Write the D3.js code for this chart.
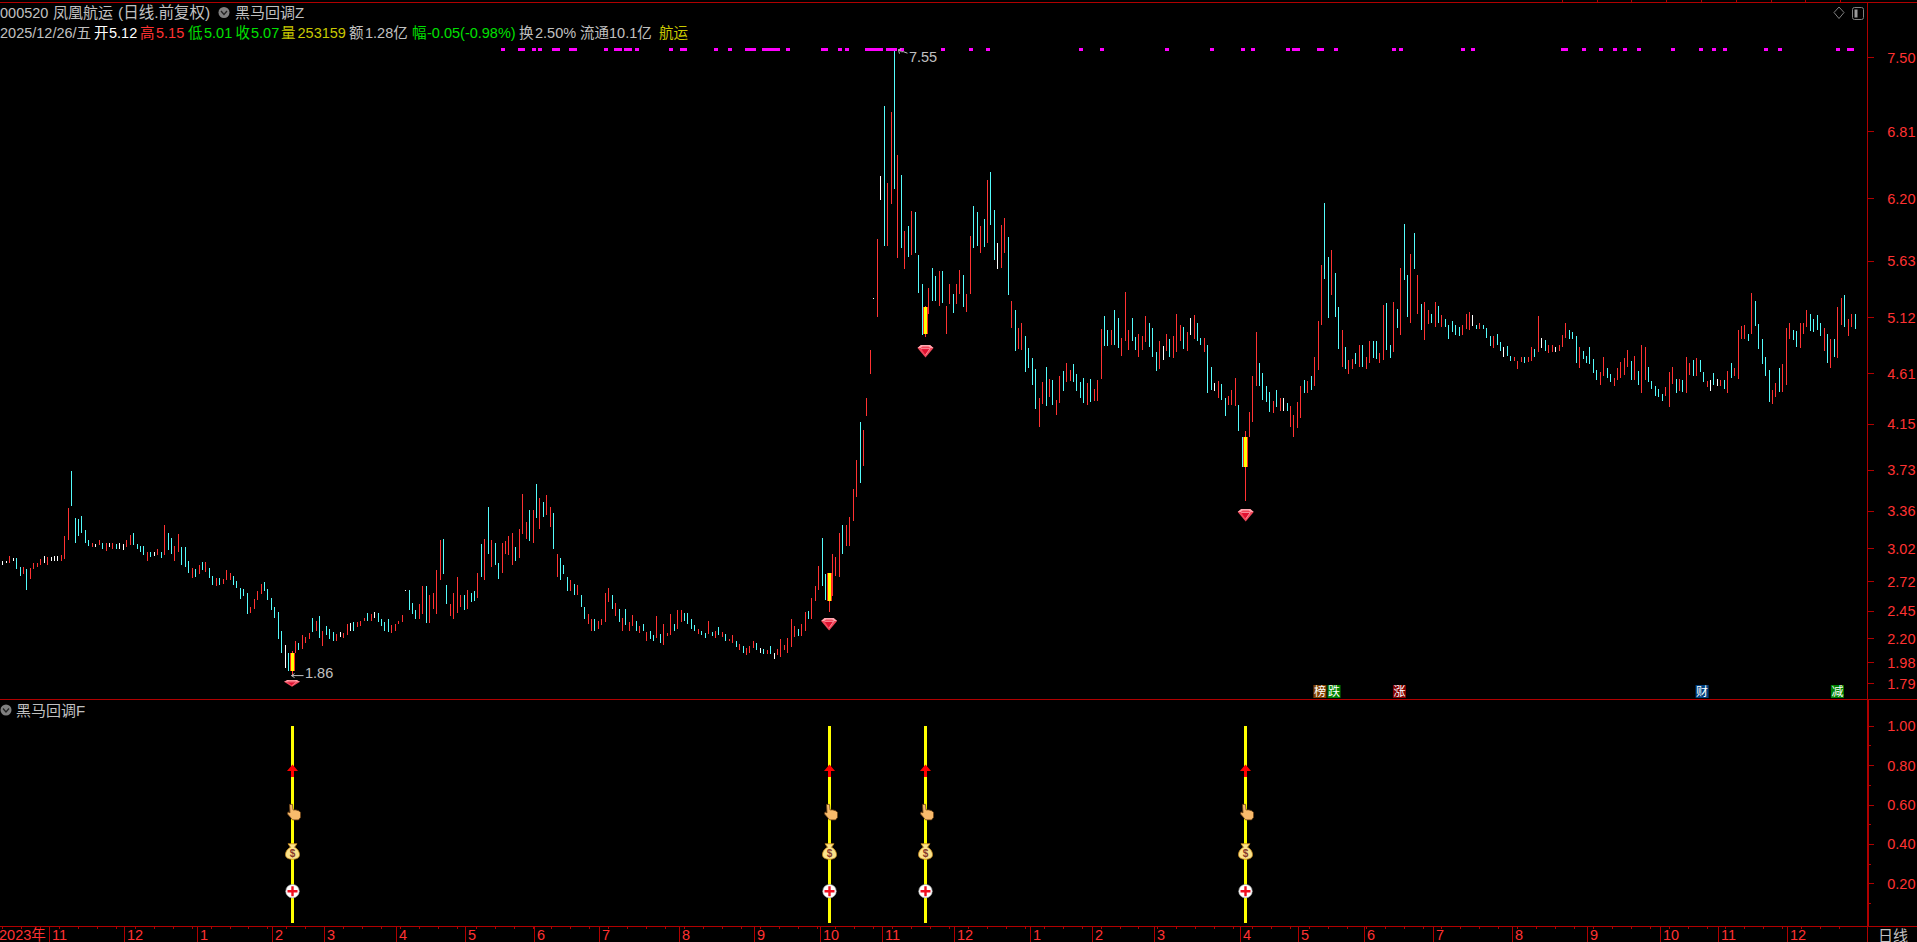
<!DOCTYPE html>
<html><head><meta charset="utf-8">
<script src="https://d3js.org/d3.v7.min.js"></script>
<style>
html,body{margin:0;padding:0;background:#000;overflow:hidden}
svg{display:block}
text{font-family:"Liberation Sans","Noto Sans CJK SC",sans-serif}
</style></head><body>
<svg id="c" width="1917" height="942"></svg>
<script>
const highs=[
2.90,2.90,2.95,2.93,2.93,2.85,2.85,2.83,2.84,2.88,
2.88,2.92,2.95,2.94,2.94,2.95,2.95,2.96,3.13,3.38,
3.72,3.29,3.28,3.31,3.18,3.09,3.07,3.06,3.09,3.07,
3.07,3.07,3.07,3.06,3.07,3.06,3.09,3.14,3.16,3.06,
3.04,3.04,2.98,2.98,2.98,3.01,2.98,3.23,3.16,3.11,
3.04,3.15,3.03,3.03,2.90,2.84,2.83,2.87,2.89,2.89,
2.84,2.77,2.75,2.75,2.74,2.82,2.79,2.77,2.72,2.66,
2.65,2.61,2.48,2.56,2.63,2.69,2.71,2.65,2.57,2.48,
2.44,2.27,2.14,2.07,2.08,2.17,2.16,2.23,2.21,2.25,
2.38,2.36,2.40,2.27,2.31,2.28,2.26,2.24,2.26,2.25,
2.33,2.34,2.35,2.35,2.36,2.38,2.43,2.42,2.44,2.43,
2.37,2.35,2.37,2.32,2.33,2.36,2.41,2.64,2.64,2.52,
2.46,2.51,2.67,2.67,2.59,2.61,2.82,3.09,3.10,2.68,
2.51,2.61,2.76,2.59,2.59,2.64,2.61,2.63,2.79,3.06,
3.10,3.39,3.09,3.07,2.88,3.07,3.08,3.13,3.16,3.03,
3.19,3.51,3.26,3.37,3.37,3.60,3.47,3.44,3.50,3.39,
3.34,2.97,2.93,2.87,2.76,2.73,2.69,2.68,2.59,2.48,
2.42,2.37,2.37,2.36,2.37,2.61,2.66,2.59,2.52,2.47,
2.38,2.47,2.35,2.41,2.36,2.31,2.33,2.26,2.27,2.23,
2.40,2.24,2.33,2.25,2.42,2.33,2.46,2.46,2.43,2.43,
2.37,2.32,2.28,2.27,2.25,2.36,2.26,2.27,2.30,2.26,
2.24,2.19,2.23,2.17,2.15,2.13,2.11,2.13,2.17,2.16,
2.11,2.10,2.09,2.13,2.07,2.10,2.19,2.14,2.20,2.37,
2.31,2.28,2.33,2.44,2.45,2.57,2.67,2.86,3.11,2.78,
2.79,2.97,2.94,3.16,3.23,3.23,3.30,3.56,3.82,4.17,
4.09,4.38,4.82,5.29,5.83,6.40,7.04,6.34,6.98,7.55,
6.59,6.41,5.90,5.95,6.08,6.07,5.68,5.42,5.22,5.38,
5.57,5.49,5.54,5.54,5.22,5.42,5.33,5.42,5.55,5.50,
5.33,5.86,6.13,6.07,5.95,6.01,6.37,6.44,6.09,5.79,
5.96,6.02,5.85,5.27,5.18,5.02,5.07,4.95,4.84,4.75,
4.65,4.38,4.53,4.67,4.56,4.55,4.37,4.58,4.63,4.70,
4.64,4.69,4.60,4.53,4.57,4.52,4.56,4.47,4.55,5.01,
5.13,5.00,5.00,5.18,5.11,4.93,5.35,5.00,5.11,4.94,
4.97,4.95,5.13,5.07,5.02,4.80,4.90,4.86,4.97,4.92,
4.95,5.15,5.05,5.03,4.98,5.11,5.14,5.07,4.93,4.93,
4.87,4.67,4.52,4.54,4.51,4.38,4.40,4.46,4.57,4.32,
4.03,4.08,4.26,4.58,4.98,4.70,4.61,4.49,4.44,4.36,
4.46,4.38,4.38,4.34,4.31,4.23,4.35,4.49,4.55,4.54,
4.58,4.76,5.08,5.59,6.16,5.67,5.73,5.52,5.21,5.00,
4.85,4.73,4.74,4.79,4.87,4.87,4.76,4.90,4.90,4.90,
4.79,5.23,5.25,4.87,5.26,5.19,5.57,5.97,5.50,5.69,
5.88,5.50,5.24,5.26,5.18,5.15,5.26,5.22,5.14,5.10,
5.05,5.08,5.05,5.03,5.05,5.15,5.17,5.14,5.05,5.07,
5.05,5.02,4.95,4.95,4.97,4.89,4.85,4.86,4.77,4.76,
4.72,4.76,4.76,4.76,4.85,4.83,5.13,4.93,4.91,4.87,
4.87,4.85,4.87,4.96,5.07,5.00,4.98,4.95,4.85,4.81,
4.77,4.85,4.74,4.64,4.62,4.76,4.66,4.60,4.57,4.66,
4.71,4.75,4.82,4.72,4.77,4.63,4.87,4.85,4.67,4.54,
4.49,4.47,4.42,4.48,4.62,4.67,4.56,4.56,4.55,4.76,
4.70,4.73,4.75,4.73,4.62,4.54,4.55,4.61,4.56,4.55,
4.55,4.63,4.70,4.66,5.00,5.04,5.05,4.97,5.34,5.27,
5.06,4.92,4.76,4.64,4.46,4.52,4.66,4.69,5.02,5.07,
5.00,4.99,5.07,5.07,5.18,5.15,5.10,5.14,5.07,5.02,
4.97,4.92,4.92,5.21,5.29,5.32,5.10,5.15,5.15];
const lows=[
2.87,2.88,2.88,2.90,2.83,2.77,2.78,2.64,2.74,2.83,
2.85,2.87,2.88,2.87,2.90,2.90,2.90,2.90,2.92,3.09,
3.40,3.07,3.13,3.16,3.07,3.04,3.03,3.03,3.05,3.01,
2.99,3.03,3.01,3.01,3.01,3.00,3.03,3.05,3.05,3.01,
2.98,2.96,2.90,2.94,2.95,2.96,2.93,2.96,3.00,2.97,
2.90,2.98,2.87,2.85,2.79,2.75,2.76,2.78,2.82,2.80,
2.75,2.68,2.67,2.68,2.69,2.73,2.73,2.68,2.66,2.56,
2.58,2.42,2.43,2.47,2.55,2.60,2.63,2.55,2.46,2.38,
2.19,2.07,1.93,1.90,1.86,2.07,2.09,2.10,2.16,2.19,
2.26,2.27,2.20,2.13,2.23,2.19,2.17,2.17,2.21,2.20,
2.23,2.27,2.27,2.30,2.31,2.36,2.36,2.36,2.38,2.35,
2.31,2.27,2.26,2.25,2.27,2.33,2.35,2.63,2.46,2.42,
2.37,2.37,2.42,2.34,2.34,2.47,2.42,2.73,2.78,2.51,
2.40,2.37,2.43,2.48,2.46,2.47,2.53,2.54,2.57,2.76,
2.73,2.97,2.85,2.87,2.74,2.79,2.97,2.96,2.87,2.90,
2.93,3.15,3.10,3.08,3.07,3.29,3.19,3.30,3.32,3.21,
3.01,2.76,2.73,2.78,2.63,2.63,2.59,2.59,2.48,2.37,
2.33,2.27,2.27,2.28,2.32,2.35,2.53,2.47,2.40,2.35,
2.27,2.32,2.27,2.31,2.27,2.25,2.27,2.17,2.19,2.17,
2.20,2.16,2.14,2.22,2.23,2.27,2.28,2.35,2.36,2.33,
2.28,2.27,2.24,2.23,2.20,2.24,2.22,2.20,2.23,2.21,
2.17,2.17,2.16,2.12,2.09,2.07,2.05,2.07,2.11,2.09,
2.07,2.06,2.06,2.06,2.01,2.05,2.03,2.09,2.07,2.12,
2.21,2.22,2.22,2.27,2.37,2.37,2.54,2.64,2.67,2.55,
2.44,2.58,2.77,2.76,2.97,3.04,3.04,3.27,3.48,3.61,
3.77,4.22,4.60,5.28,5.12,6.18,5.77,5.77,6.15,6.28,
5.66,5.75,5.56,5.67,5.68,5.70,5.34,4.96,4.94,5.15,
5.27,5.27,5.22,5.25,4.97,5.24,5.16,5.24,5.33,5.21,
5.17,5.33,5.75,5.77,5.70,5.76,5.79,5.96,5.64,5.56,
5.57,5.70,5.32,5.02,4.81,4.83,4.82,4.62,4.66,4.50,
4.28,4.12,4.33,4.31,4.39,4.32,4.23,4.34,4.45,4.53,
4.54,4.53,4.45,4.38,4.34,4.32,4.35,4.36,4.36,4.56,
4.86,4.86,4.87,4.87,4.84,4.77,4.90,4.82,4.90,4.82,
4.76,4.82,4.89,4.85,4.76,4.63,4.65,4.73,4.81,4.76,
4.75,4.80,4.90,4.83,4.81,4.96,4.92,4.90,4.87,4.80,
4.43,4.46,4.45,4.38,4.37,4.22,4.32,4.32,4.31,4.08,
3.76,3.45,4.03,4.17,4.49,4.49,4.37,4.35,4.26,4.25,
4.30,4.27,4.27,4.27,4.12,4.03,4.11,4.20,4.43,4.43,
4.46,4.49,4.64,5.05,5.47,5.11,5.32,5.12,4.83,4.67,
4.65,4.60,4.65,4.69,4.67,4.67,4.65,4.70,4.75,4.74,
4.70,4.73,4.82,4.75,4.80,5.02,4.96,5.46,5.12,5.07,
5.56,5.15,5.00,4.91,5.06,5.07,5.03,5.07,5.03,5.03,
4.92,4.98,4.96,4.95,4.96,5.01,5.00,5.04,5.01,5.01,
5.01,4.93,4.86,4.84,4.87,4.81,4.76,4.77,4.72,4.72,
4.65,4.71,4.70,4.71,4.72,4.76,4.80,4.84,4.81,4.79,
4.80,4.80,4.81,4.85,4.93,4.92,4.92,4.70,4.66,4.74,
4.70,4.69,4.61,4.55,4.50,4.58,4.57,4.53,4.49,4.55,
4.57,4.59,4.67,4.55,4.55,4.50,4.43,4.55,4.53,4.47,
4.40,4.39,4.36,4.40,4.30,4.51,4.43,4.45,4.44,4.43,
4.59,4.58,4.58,4.62,4.53,4.48,4.45,4.50,4.49,4.49,
4.47,4.43,4.57,4.58,4.56,4.92,4.92,4.90,4.97,5.04,
4.83,4.69,4.58,4.35,4.33,4.39,4.44,4.44,4.50,4.92,
4.91,4.85,4.84,4.97,5.03,4.99,4.98,5.00,4.95,4.81,
4.70,4.66,4.76,4.75,5.05,5.03,4.95,5.03,5.01];
const kinds=(
"wwrwccrcrrrrwrwwwrrr"+"ccccccrwrcrwrcwwrrcc"+"ccrcwrcrccrrcccrcrcr"+"ccrcrrrcccccrrrrcccc"+
"ccwcrrcrrrcrcrcccrwr"+"rwcrrrcrwccccrrrrwcc"+"crrcrrrrccrrrrcrccrc"+"rcrccrrrrcrrrcrcrcrr"+
"crcccrcrccrrcrrrrcrc"+"rcrrcrcrccrcrrrcrrcc"+"ccrccrcrcrcrrcrcrrrc"+"wcrcwrrrrrrcrrcrrrcc"+
"rrrrcrrrrcrrrwrwcrrc"+"rcrcrcccrrccrcrrcrrc"+"rrccrcrccwrrcrcrrccc"+"crrcrcrrcrrccccrcrrr"+
"ccrccrrrccrrrccc"+"rwrc"+"rrrcrwrccrccwrccrrrc"+"crrrrccccrcrwcrrrrcr"+"crrrccrccrcrrcrcrrcc"+
"rrccrcrccrcrcrrcrcrc"+"ccccrrrwcrcccrccwccr"+"rrcrrcrwcrrwrrrcccrc"+"ccccrrccrrrrrcrcrrcc"+
"cccrrrcrcrrcrccrwcwr"+"crcrrrrcrcccccrrcrrr"+"ccrrrccccrcrcrrcrrc").split("");

const priceTicks=[7.48,6.81,6.20,5.63,5.12,4.61,4.15,3.73,3.36,3.02,2.72,2.45,2.20,1.98,1.79];
const priceTickLabels=["7.50","6.81","6.20","5.63","5.12","4.61","4.15","3.73","3.36","3.02","2.72","2.45","2.20","1.98","1.79"];
const indicatorTicks=[1.00,0.80,0.60,0.40,0.20];
const indicatorMinor=[0.90,0.70,0.50,0.30,0.10];
const monthIdx=[14,36,57,79,94,115,135,155,174,197,219,238,256,277,299,317,335,360,377,396,416,439,461,482,499,519];
const monthLabels=["11","12","1","2","3","4","5","6","7","8","9","10","11","12","1","2","3","4","5","6","7","8","9","10","11","12"];
const signalIdx=[84,240,268,361];
const signalBodyTop=[2.07,2.79,5.21,4.03];
const signalBodyBottom=[1.90,2.54,4.97,3.76];
const gemPrices=[1.79,2.33,4.81,3.32];
const gemSquash=[0.55,1,1,1];
const dotIdx=[145,150,151,154,156,160,161,165,166,175,178,179,181,182,184,194,197,198,207,211,216,217,218,221,222,223,224,225,228,238,239,243,245,251,252,253,254,255,257,258,259,261,273,281,286,313,319,338,351,360,363,373,375,376,382,383,387,404,406,424,427,453,454,459,464,468,471,475,485,493,497,500,512,516,533,536,537];
const dotPrice=7.555;
const tagIdx=[382.7,386.8,405.8,493.7,533];
const tagText=["榜","跌","涨","财","减"];
const tagFill=["#804000","#008000","#800000","#004080","#008000"];
const iconValues={arrow:0.77,hand:0.56,bag:0.36,plus:0.16};

const RED="#ff3232",LINE="#b00000",GRAY="#c0c0c0";
const svg=d3.select("#c");
svg.append("rect").attr("width",1917).attr("height",942).attr("fill","#000");
const x=d3.scaleLinear().domain([0,538]).range([2.3,1854.6]);
const y=d3.scaleLinear().domain([5.12,1.79]).range([317,683.3]);
const yS=d3.scaleLinear().domain([0,1]).range([922.7,725.7]);
const kindColor={r:"#ff3232",c:"#54fcfc",w:"#ffffff"};
const px=i=>Math.round(x(i));

const L=svg.append("g").attr("shape-rendering","crispEdges").attr("stroke",LINE);
L.append("line").attr("x1",0).attr("x2",1917).attr("y1",2.5).attr("y2",2.5);
L.append("line").attr("x1",0).attr("x2",1867).attr("y1",699.5).attr("y2",699.5);
L.append("line").attr("x1",0).attr("x2",1917).attr("y1",926.5).attr("y2",926.5);
L.append("line").attr("x1",1867.5).attr("x2",1867.5).attr("y1",2).attr("y2",699);
L.append("line").attr("x1",1868).attr("x2",1868).attr("y1",699).attr("y2",926).attr("stroke-width",2);
L.append("line").attr("x1",1867.5).attr("x2",1867.5).attr("y1",926).attr("y2",942);
L.append("line").attr("x1",1868).attr("x2",1917).attr("y1",699.5).attr("y2",699.5);
L.selectAll(".tt").data(d3.range(453,539,10.1)).join("line")
 .attr("x1",d=>px(d)+.5).attr("x2",d=>px(d)+.5).attr("y1",0).attr("y2",2);

function styleAxis(g){
  g.select(".domain").remove();
  g.selectAll(".tick line").attr("stroke",LINE).attr("x2",6).attr("shape-rendering","crispEdges");
  g.selectAll(".tick text").attr("fill",RED).attr("font-size",14.5).attr("x",48).attr("dy",0).attr("dominant-baseline","central").attr("text-anchor","end")
   .attr("font-family",'"Liberation Sans",sans-serif');
}
svg.append("g").attr("transform","translate(1867.5,0)")
  .call(d3.axisRight(y).tickValues(priceTicks).tickFormat((d,i)=>priceTickLabels[i])).call(styleAxis);
svg.append("g").attr("transform","translate(1867.5,0)")
  .call(d3.axisRight(yS).tickValues(indicatorTicks).tickFormat(d3.format(".2f"))).call(styleAxis);
svg.append("g").selectAll("line").data(indicatorMinor).join("line")
  .attr("x1",1869).attr("x2",1870.5).attr("y1",d=>Math.round(yS(d))+.5).attr("y2",d=>Math.round(yS(d))+.5)
  .attr("stroke",LINE).attr("shape-rendering","crispEdges");

svg.append("g").attr("shape-rendering","crispEdges").selectAll("rect").data(highs).join("rect")
  .attr("x",(d,i)=>px(i)).attr("width",1)
  .attr("y",(d,i)=>Math.round(y(highs[i])))
  .attr("height",(d,i)=>Math.max(1,Math.round(y(lows[i]))-Math.round(y(highs[i]))))
  .attr("fill",(d,i)=>kindColor[kinds[i]]);

const sb=svg.append("g").attr("shape-rendering","crispEdges");
signalIdx.forEach((s,k)=>{
  const t=Math.round(y(signalBodyTop[k])),b=Math.round(y(signalBodyBottom[k]));
  sb.append("rect").attr("x",px(s)-2).attr("width",5).attr("y",t).attr("height",b-t).attr("fill","#ff2a1a");
  sb.append("rect").attr("x",px(s)-1).attr("width",3).attr("y",t).attr("height",b-t).attr("fill","#ffff00");
});

svg.append("g").attr("shape-rendering","crispEdges").selectAll("rect").data(dotIdx).join("rect")
  .attr("x",d=>px(d)-1.5).attr("y",y(dotPrice)-1.5).attr("width",4).attr("height",3.5).attr("fill","#ff00ff");

signalIdx.forEach((s,k)=>{
  const g=svg.append("g").attr("transform",`translate(${x(s)+.5},${y(gemPrices[k])}) scale(1,${gemSquash[k]})`);
  g.append("path").attr("d","M-8,-3 L-4.5,-6 L4.5,-6 L8,-3 L0,6.5 Z").attr("fill","#f2475a");
  g.append("path").attr("d","M-8,-3 L-4.5,-6 L4.5,-6 L8,-3 L5,-3 L3,-4.5 L-3,-4.5 L-5,-3 Z").attr("fill","#ffa8b0");
  g.append("path").attr("d","M-4.5,-2.5 L4.5,-2.5 L0,4").attr("fill","#e01030").attr("stroke","#ffb0b8").attr("stroke-width",.7);
});

const ext=[{i:260,p:7.55,t:"7.55",dx:11.5,dy:7.5},{i:84,p:1.86,t:"1.86",dx:13.5,dy:-3}];
ext.forEach(e=>{
  svg.append("text").attr("x",x(e.i)+e.dx).attr("y",y(e.p)+e.dy).attr("dominant-baseline","central").attr("fill",GRAY).attr("font-size",14.5).text(e.t);
});
const a1x=x(260),a1y=y(7.55);
svg.append("path").attr("d",`M${a1x+1},${a1y}L${a1x+4},${a1y+2}L${a1x+6},${a1y+2}L${a1x+10},${a1y+3.5}M${a1x+1},${a1y}L${a1x+4},${a1y-1}M${a1x+1},${a1y}L${a1x+2},${a1y+4}`).attr("stroke",GRAY).attr("fill","none");
const a2x=x(84),a2y=y(1.86);
svg.append("path").attr("d",`M${a2x},${a2y}H${a2x+12}M${a2x},${a2y}l3,-2M${a2x},${a2y}l3,2`).attr("stroke",GRAY).attr("fill","none");

const tg=svg.append("g").selectAll("g").data(tagIdx).join("g").attr("transform",d=>`translate(${x(d)},691.5)`);
tg.append("rect").attr("x",-6.5).attr("y",-6.5).attr("width",13).attr("height",13).attr("fill",(d,i)=>tagFill[i]);
tg.append("text").attr("text-anchor","middle").attr("dominant-baseline","central").attr("fill","#fff").attr("font-size",12)
  .attr("font-family",'"Noto Sans CJK SC"').text((d,i)=>tagText[i]);

svg.append("g").selectAll("line").data(signalIdx).join("line")
  .attr("x1",d=>px(d)+.5).attr("x2",d=>px(d)+.5).attr("y1",yS(1)).attr("y2",yS(0))
  .attr("stroke","#ffff00").attr("stroke-width",3).attr("shape-rendering","crispEdges");
const si=svg.append("g").selectAll("g").data(signalIdx).join("g").attr("transform",d=>`translate(${px(d)+.5},0)`);
si.append("path").attr("transform",`translate(0,${yS(iconValues.arrow)})`)
  .attr("d","M0,-6.5 L5.5,0 L1.5,0 L1.5,6 L-1.5,6 L-1.5,0 L-5.5,0 Z").attr("fill","#ff0000");
si.append("path").attr("transform",`translate(1.5,${yS(iconValues.hand)})`)
  .attr("d","M-4.5,-8 L-1.5,-8 L-1,-2.5 L2,-2.5 L5,-1.5 L6.5,0 L6.5,5 L4.5,7.5 L-1.5,7.5 L-3.5,5 L-6.5,1.5 L-6,-0.5 L-4,0.5 Z")
  .attr("fill","#f9bb6c").attr("stroke","#6e4215").attr("stroke-width",.8);
const bag=si.append("g").attr("transform",`translate(0,${yS(iconValues.bag)})`);
bag.append("path").attr("d","M-4.5,-8 L4.5,-8 L2,-4.5 C6,-2.5 7,1 7,3 C7,6 4,7.5 0,7.5 C-4,7.5 -7,6 -7,3 C-7,1 -6,-2.5 -2,-4.5 Z")
  .attr("fill","#fbe28a").attr("stroke","#c98a1a").attr("stroke-width",.8);
bag.append("text").attr("text-anchor","middle").attr("dominant-baseline","central").attr("y",1.5).attr("font-size",10).attr("font-weight","bold").attr("fill","#8a3a2a").text("$");
const pl=si.append("g").attr("transform",`translate(0,${yS(iconValues.plus)})`);
pl.append("circle").attr("r",6.8).attr("fill","#fff").attr("stroke","#999").attr("stroke-width",.6);
pl.append("path").attr("d","M-5,-1.2H-1.2V-5H1.2V-1.2H5V1.2H1.2V5H-1.2V1.2H-5Z").attr("fill","#f01020");

const xg=svg.append("g");
xg.append("text").attr("x",-1).attr("y",935).attr("fill",RED).attr("font-size",14.5).attr("dominant-baseline","central").text("2023年");
xg.selectAll(".m").data(monthIdx).join("line").attr("x1",d=>px(d)-1.5).attr("x2",d=>px(d)-1.5)
  .attr("y1",926).attr("y2",942).attr("stroke",LINE).attr("shape-rendering","crispEdges");
xg.selectAll(".ml").data(monthIdx).join("text").attr("x",d=>px(d)+1).attr("y",935).attr("fill",RED).attr("font-size",14.5)
  .attr("dominant-baseline","central").text((d,i)=>monthLabels[i]);
xg.selectAll(".w").data(d3.range(0,538,5.5)).join("line").attr("x1",d=>px(d)+.5).attr("x2",d=>px(d)+.5)
  .attr("y1",926).attr("y2",929).attr("stroke",LINE).attr("shape-rendering","crispEdges");
svg.append("text").attr("x",1878).attr("y",935).attr("fill",GRAY).attr("font-size",15).attr("dominant-baseline","central").attr("font-family",'"Noto Sans CJK SC"').text("日线");

function put(tx,xx,yy,fill,fs){svg.append("text").attr("x",xx).attr("y",yy).attr("fill",fill).attr("font-size",fs||14.5).attr("dominant-baseline","central").text(tx);}
function badge(cx,cy){
  svg.append("circle").attr("cx",cx).attr("cy",cy).attr("r",5.5).attr("fill","#808080");
  svg.append("path").attr("d",`M${cx-3},${cy-1.5}L${cx},${cy+2}L${cx+3},${cy-1.5}`).attr("stroke","#222").attr("stroke-width",1.3).attr("fill","none");
}
put("000520",0,12.5,GRAY);put("凤凰航运",53,12.5,GRAY,15);put("(日线.前复权)",118,12.5,GRAY,15.5);
badge(224,12.5);put("黑马回调Z",235,12.5,GRAY,15);
const GR="#00e000",YE="#c8c800";
[["2025/12/26/五",0,GRAY],["开",94,"#fff"],["5.12",109,"#fff"],["高",140,RED],["5.15",156,RED],["低",188,GR],["5.01",204,GR],
 ["收",235.5,GR],["5.07",251,GR],["量",281,YE],["253159",297.5,YE],["额",349,GRAY],["1.28亿",365,GRAY],["幅",412,GR],
 ["-0.05(-0.98%)",427,GR],["换",519,GRAY],["2.50%",535,GRAY],["流通",580,GRAY],["10.1亿",609,GRAY],["航运",659,YE]]
 .forEach(d=>put(d[0],d[1],33,d[2]));
badge(6,710);put("黑马回调F",16,710,GRAY,15);

svg.append("path").attr("d","M1839,7L1844,12.5L1839,18.5L1834,12.5Z").attr("fill","none").attr("stroke","#808080");
svg.append("rect").attr("x",1852.5).attr("y",7.5).attr("width",11).attr("height",12).attr("rx",2).attr("fill","none").attr("stroke","#808080");
svg.append("rect").attr("x",1854.5).attr("y",9.5).attr("width",3).attr("height",8).attr("fill","#9a9a9a");
</script>
</body></html>
